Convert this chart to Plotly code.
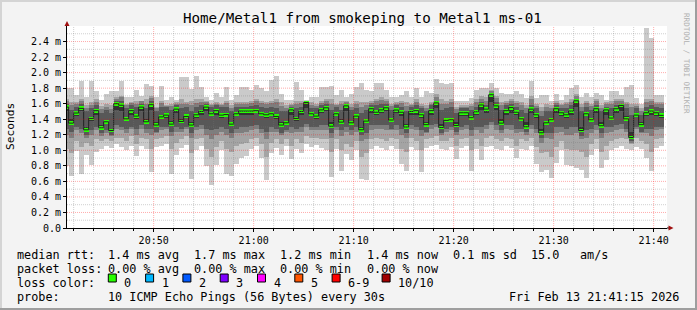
import plotly.graph_objects as go
import pandas as pd

# ---------------- data (ms) ----------------
t_first = pd.Timestamp("2026-02-13 20:41:00")
n_steps = 120
step_seconds = 30
step_start = [t_first + pd.Timedelta(seconds=step_seconds * i) for i in range(n_steps)]

median = [1.556, 1.35, 1.48, 1.54, 1.264, 1.41, 1.51, 1.29, 1.367, 1.255,
          1.60, 1.58, 1.405, 1.51, 1.44, 1.556, 1.367, 1.587, 1.325, 1.43,
          1.453, 1.337, 1.53, 1.371, 1.436, 1.325, 1.457, 1.50, 1.556, 1.47,
          1.51, 1.453, 1.46, 1.337, 1.47, 1.505, 1.505, 1.505, 1.51, 1.47,
          1.457, 1.47, 1.436, 1.325, 1.354, 1.52, 1.41, 1.50, 1.615, 1.47,
          1.44, 1.52, 1.547, 1.31, 1.47, 1.363, 1.572, 1.354, 1.44, 1.264,
          1.376, 1.535, 1.49, 1.52, 1.547, 1.39, 1.518, 1.49, 1.30, 1.50,
          1.51, 1.457, 1.33, 1.51, 1.61, 1.294, 1.385, 1.393, 1.32, 1.483,
          1.483, 1.42, 1.496, 1.583, 1.53, 1.715, 1.572, 1.35, 1.51, 1.55,
          1.49, 1.405, 1.303, 1.53, 1.457, 1.226, 1.354, 1.393, 1.535, 1.483,
          1.457, 1.505, 1.637, 1.255, 1.47, 1.393, 1.535, 1.316, 1.52, 1.415,
          1.535, 1.577, 1.405, 1.165, 1.453, 1.33, 1.483, 1.505, 1.483, 1.45]

ping_max = [1.80, 1.80, 1.71, 1.886, 1.69, 1.886, 1.757, 1.65, 1.72, 1.757,
            1.757, 1.894, 1.69, 1.69, 1.78, 1.705, 1.856, 1.834, 1.69, 1.83,
            1.65, 1.69, 1.65, 1.95, 1.95, 1.788, 1.96, 1.82, 1.69, 1.65,
            1.735, 1.69, 1.81, 1.65, 1.71, 1.81, 1.81, 1.78, 1.843, 1.80,
            1.757, 1.907, 1.96, 1.72, 1.65, 1.65, 1.873, 1.775, 1.65, 1.69,
            1.69, 1.81, 1.81, 1.83, 1.71, 1.78, 1.69, 1.72, 1.82, 1.86,
            1.78, 1.757, 1.865, 1.86, 1.78, 1.69, 1.69, 1.71, 1.757, 1.69,
            1.80, 1.69, 1.757, 1.74, 1.92, 1.86, 1.85, 1.86, 1.63, 1.63,
            1.63, 1.67, 1.78, 1.80, 1.80, 1.865, 1.80, 1.74, 1.73, 1.73,
            1.765, 1.73, 1.67, 1.894, 1.67, 1.71, 1.71, 1.63, 1.73, 1.65,
            1.71, 1.80, 1.843, 1.69, 1.74, 1.69, 1.74, 1.71, 1.65, 1.757,
            1.757, 1.71, 1.82, 1.843, 1.67, 1.60, 2.57, 2.44, 1.71, 1.71]

ping_min = [0.80, 0.664, 0.985, 0.695, 0.943, 0.805, 0.98, 1.02, 1.05, 1.03,
            1.08, 1.04, 1.00, 1.06, 0.93, 1.05, 1.02, 0.72, 1.04, 1.06,
            1.08, 0.695, 0.94, 1.03, 1.07, 0.63, 1.01, 1.05, 0.80, 0.55,
            0.81, 1.00, 0.70, 0.664, 0.83, 0.90, 0.93, 1.02, 1.05, 0.90,
            0.62, 0.96, 1.03, 0.94, 1.05, 0.89, 1.02, 0.97, 1.08, 1.04,
            1.07, 1.03, 1.01, 0.66, 1.02, 0.74, 0.95, 0.88, 1.00, 0.63,
            0.62, 1.02, 1.05, 1.03, 1.00, 1.06, 1.02, 0.83, 0.73, 1.04,
            1.00, 0.72, 1.03, 1.05, 1.07, 1.02, 1.00, 1.04, 0.89, 1.03,
            1.05, 0.73, 1.02, 0.88, 1.04, 1.06, 1.02, 1.00, 1.05, 1.03,
            0.90, 1.02, 1.00, 1.05, 0.83, 0.72, 0.75, 0.64, 0.84, 1.00,
            0.81, 0.80, 0.77, 0.75, 0.64, 0.94, 1.02, 0.77, 0.88, 1.00,
            1.03, 1.05, 1.02, 1.00, 1.04, 1.02, 0.90, 0.737, 1.03, 1.05]

ping_hi1 = [1.66, 1.62, 1.62, 1.66, 1.58, 1.62, 1.66, 1.57, 1.60, 1.58,
            1.68, 1.70, 1.60, 1.62, 1.64, 1.64, 1.66, 1.70, 1.56, 1.64,
            1.58, 1.60, 1.62, 1.66, 1.62, 1.64, 1.66, 1.66, 1.64, 1.60,
            1.62, 1.60, 1.64, 1.58, 1.62, 1.62, 1.62, 1.64, 1.66, 1.64,
            1.62, 1.64, 1.66, 1.62, 1.58, 1.60, 1.64, 1.64, 1.64, 1.62,
            1.60, 1.64, 1.66, 1.66, 1.60, 1.64, 1.64, 1.60, 1.64, 1.62,
            1.62, 1.64, 1.66, 1.68, 1.66, 1.60, 1.62, 1.64, 1.62, 1.60,
            1.66, 1.60, 1.58, 1.62, 1.72, 1.66, 1.64, 1.66, 1.56, 1.58,
            1.58, 1.60, 1.66, 1.70, 1.68, 1.78, 1.70, 1.62, 1.64, 1.66,
            1.64, 1.62, 1.58, 1.70, 1.60, 1.56, 1.60, 1.58, 1.64, 1.60,
            1.62, 1.66, 1.72, 1.60, 1.64, 1.60, 1.66, 1.58, 1.62, 1.64,
            1.66, 1.66, 1.62, 1.60, 1.60, 1.54, 1.66, 1.66, 1.62, 1.62]

ping_lo1 = [1.02, 0.96, 1.12, 1.04, 1.10, 1.06, 1.14, 1.12, 1.14, 1.12,
            1.16, 1.16, 1.12, 1.18, 1.08, 1.16, 1.14, 1.02, 1.14, 1.16,
            1.18, 1.02, 1.10, 1.14, 1.18, 0.96, 1.14, 1.16, 1.02, 0.92,
            1.04, 1.12, 1.02, 0.98, 1.06, 1.08, 1.10, 1.14, 1.16, 1.08,
            0.92, 1.10, 1.14, 1.08, 1.14, 1.06, 1.14, 1.10, 1.18, 1.16,
            1.16, 1.14, 1.14, 0.98, 1.14, 1.00, 1.08, 1.04, 1.12, 0.92,
            0.96, 1.14, 1.16, 1.14, 1.12, 1.16, 1.14, 1.02, 0.98, 1.16,
            1.12, 1.00, 1.14, 1.16, 1.18, 1.12, 1.12, 1.16, 1.06, 1.14,
            1.16, 1.00, 1.14, 1.06, 1.16, 1.18, 1.14, 1.12, 1.16, 1.14,
            1.06, 1.14, 1.12, 1.16, 1.04, 0.96, 0.98, 0.92, 1.04, 1.12,
            1.02, 1.00, 1.00, 0.98, 0.92, 1.08, 1.14, 0.98, 1.06, 1.12,
            1.14, 1.16, 1.14, 1.08, 1.16, 1.12, 1.08, 0.98, 1.14, 1.16]

ping_hi2 = [1.64, 1.58, 1.60, 1.64, 1.55, 1.58, 1.62, 1.53, 1.56, 1.53,
            1.66, 1.68, 1.58, 1.61, 1.60, 1.63, 1.60, 1.67, 1.54, 1.61,
            1.57, 1.57, 1.60, 1.60, 1.59, 1.58, 1.61, 1.62, 1.62, 1.58,
            1.60, 1.58, 1.61, 1.55, 1.59, 1.60, 1.60, 1.61, 1.63, 1.61,
            1.59, 1.61, 1.62, 1.57, 1.55, 1.58, 1.60, 1.61, 1.64, 1.58,
            1.57, 1.61, 1.63, 1.60, 1.58, 1.59, 1.62, 1.56, 1.60, 1.56,
            1.58, 1.61, 1.63, 1.65, 1.63, 1.57, 1.60, 1.61, 1.57, 1.58,
            1.62, 1.57, 1.55, 1.60, 1.69, 1.60, 1.60, 1.62, 1.53, 1.56,
            1.56, 1.57, 1.62, 1.66, 1.64, 1.76, 1.67, 1.58, 1.61, 1.63,
            1.61, 1.58, 1.54, 1.66, 1.57, 1.51, 1.56, 1.55, 1.61, 1.58,
            1.59, 1.62, 1.70, 1.56, 1.61, 1.57, 1.63, 1.55, 1.60, 1.60,
            1.63, 1.64, 1.59, 1.56, 1.57, 1.51, 1.62, 1.63, 1.59, 1.59]

ping_lo2 = [1.20, 1.16, 1.26, 1.22, 1.16, 1.20, 1.26, 1.18, 1.22, 1.18,
            1.28, 1.26, 1.22, 1.28, 1.20, 1.28, 1.22, 1.20, 1.22, 1.26,
            1.28, 1.18, 1.24, 1.24, 1.28, 1.16, 1.26, 1.28, 1.20, 1.14,
            1.20, 1.24, 1.20, 1.16, 1.22, 1.22, 1.24, 1.26, 1.28, 1.22,
            1.14, 1.24, 1.24, 1.20, 1.24, 1.22, 1.24, 1.24, 1.30, 1.26,
            1.26, 1.26, 1.26, 1.16, 1.26, 1.18, 1.24, 1.20, 1.24, 1.12,
            1.14, 1.26, 1.28, 1.28, 1.26, 1.26, 1.26, 1.20, 1.16, 1.28,
            1.26, 1.18, 1.22, 1.28, 1.30, 1.20, 1.24, 1.26, 1.20, 1.26,
            1.28, 1.18, 1.26, 1.22, 1.28, 1.32, 1.26, 1.22, 1.28, 1.26,
            1.22, 1.24, 1.20, 1.28, 1.22, 1.10, 1.16, 1.14, 1.22, 1.24,
            1.20, 1.20, 1.22, 1.14, 1.16, 1.22, 1.26, 1.16, 1.22, 1.24,
            1.26, 1.28, 1.24, 1.10, 1.28, 1.22, 1.22, 1.18, 1.26, 1.28]

ping_hi3 = [1.60, 1.52, 1.56, 1.60, 1.50, 1.54, 1.58, 1.48, 1.52, 1.48,
            1.63, 1.63, 1.54, 1.58, 1.56, 1.60, 1.54, 1.63, 1.50, 1.56,
            1.56, 1.52, 1.58, 1.54, 1.56, 1.50, 1.56, 1.58, 1.60, 1.56,
            1.58, 1.56, 1.56, 1.50, 1.56, 1.56, 1.56, 1.57, 1.58, 1.56,
            1.54, 1.56, 1.54, 1.50, 1.50, 1.56, 1.54, 1.56, 1.63, 1.54,
            1.54, 1.58, 1.60, 1.52, 1.56, 1.52, 1.60, 1.52, 1.54, 1.48,
            1.52, 1.58, 1.58, 1.60, 1.60, 1.52, 1.58, 1.56, 1.50, 1.56,
            1.58, 1.54, 1.50, 1.58, 1.64, 1.52, 1.54, 1.56, 1.48, 1.54,
            1.54, 1.52, 1.56, 1.62, 1.58, 1.73, 1.62, 1.52, 1.58, 1.60,
            1.56, 1.52, 1.48, 1.58, 1.54, 1.44, 1.50, 1.50, 1.58, 1.54,
            1.54, 1.58, 1.66, 1.50, 1.56, 1.52, 1.58, 1.50, 1.56, 1.54,
            1.58, 1.60, 1.54, 1.46, 1.54, 1.46, 1.56, 1.58, 1.56, 1.54]

ping_lo3 = [1.28, 1.24, 1.30, 1.28, 1.20, 1.26, 1.30, 1.22, 1.26, 1.20,
            1.32, 1.30, 1.28, 1.30, 1.28, 1.32, 1.28, 1.28, 1.24, 1.30,
            1.30, 1.24, 1.30, 1.28, 1.30, 1.22, 1.30, 1.32, 1.28, 1.26,
            1.28, 1.30, 1.28, 1.22, 1.28, 1.30, 1.30, 1.31, 1.32, 1.28,
            1.24, 1.30, 1.28, 1.22, 1.26, 1.30, 1.28, 1.30, 1.34, 1.30,
            1.30, 1.32, 1.32, 1.22, 1.30, 1.26, 1.30, 1.26, 1.30, 1.20,
            1.22, 1.32, 1.32, 1.32, 1.32, 1.28, 1.32, 1.28, 1.22, 1.32,
            1.30, 1.26, 1.24, 1.32, 1.34, 1.22, 1.28, 1.30, 1.24, 1.30,
            1.32, 1.26, 1.30, 1.30, 1.32, 1.36, 1.32, 1.26, 1.32, 1.32,
            1.28, 1.28, 1.24, 1.32, 1.28, 1.16, 1.22, 1.22, 1.30, 1.30,
            1.28, 1.30, 1.30, 1.18, 1.26, 1.28, 1.32, 1.22, 1.30, 1.30,
            1.32, 1.34, 1.28, 1.12, 1.30, 1.24, 1.28, 1.28, 1.30, 1.30]

ping_core = [1.50, 1.40, 1.44, 1.50, 1.30, 1.38, 1.46, 1.32, 1.34, 1.28,
             1.52, 1.50, 1.42, 1.46, 1.40, 1.50, 1.40, 1.52, 1.36, 1.40,
             1.42, 1.38, 1.48, 1.40, 1.42, 1.36, 1.42, 1.46, 1.50, 1.44,
             1.46, 1.42, 1.44, 1.36, 1.44, 1.46, 1.46, 1.46, 1.48, 1.44,
             1.42, 1.44, 1.40, 1.36, 1.38, 1.46, 1.38, 1.46, 1.54, 1.44,
             1.40, 1.48, 1.50, 1.36, 1.44, 1.40, 1.50, 1.38, 1.42, 1.30,
             1.40, 1.48, 1.46, 1.48, 1.50, 1.42, 1.48, 1.44, 1.34, 1.46,
             1.46, 1.42, 1.36, 1.46, 1.54, 1.34, 1.40, 1.42, 1.36, 1.44,
             1.44, 1.40, 1.46, 1.52, 1.48, 1.62, 1.52, 1.40, 1.46, 1.48,
             1.46, 1.40, 1.36, 1.48, 1.42, 1.28, 1.38, 1.40, 1.48, 1.44,
             1.42, 1.46, 1.56, 1.30, 1.44, 1.40, 1.48, 1.36, 1.46, 1.42,
             1.48, 1.50, 1.44, 1.24, 1.44, 1.36, 1.44, 1.46, 1.44, 1.42]

y_ticks = [0.0, 0.2, 0.4, 0.6, 0.8, 1.0, 1.2, 1.4, 1.6, 1.8, 2.0, 2.2, 2.4]
y_tick_labels = ["0.0", "0.2 m", "0.4 m", "0.6 m", "0.8 m", "1.0 m", "1.2 m",
                 "1.4 m", "1.6 m", "1.8 m", "2.0 m", "2.2 m", "2.4 m"]

rtt_stats = ["1.4 ms avg", "1.7 ms max", "1.2 ms min", "1.4 ms now", "0.1 ms sd", "15.0", "am/s"]
loss_stats = ["0.00 % avg", "0.00 % max", "0.00 % min", "0.00 % now"]
loss_labels = ["0", "1", "2", "3", "4", "5", "6-9", "10/10"]
loss_colors = ["#26ff00", "#00b8ff", "#0059ff", "#7e00ff", "#ff00ff", "#ff5500", "#ff0000", "#a10000"]

title_text = "Home/Metal1 from smokeping to Metal1 ms-01"
probe_text = "10 ICMP Echo Pings (56 Bytes) every 30s"
stamp_text = "Fri Feb 13 21:41:15 2026"

# ---------------- geometry ----------------
W, H = 697, 310
L, R, T, B = 67, 30, 26, 82
PW, PH = W - L - R, H - T - B


def px(x):
    return (x - L) / PW


def py(y):
    return (H - B - y) / PH


x_start = pd.Timestamp("2026-02-13 20:41:20")
x_end = pd.Timestamp("2026-02-13 21:41:20")

half = pd.Timedelta(seconds=step_seconds / 2)
centers = [s + half for s in step_start]
width_ms = step_seconds * 1000

fig = go.Figure()


def band(lo, hi, color):
    fig.add_trace(go.Bar(
        x=centers, base=lo, y=[h - l for l, h in zip(lo, hi)],
        width=width_ms, marker=dict(color=color, line=dict(width=0)),
        hoverinfo="skip", showlegend=False))


band(ping_min, ping_max, "#cacaca")
band(ping_lo1, ping_hi1, "#a4a4a4")
band(ping_lo2, ping_hi2, "#7e7e7e")
band(ping_lo3, ping_hi3, "#585858")
band([min(c, m) for c, m in zip(ping_core, median)],
     [max(c, m) for c, m in zip(ping_core, median)], "#323232")

# median black step line
fig.add_trace(go.Scatter(
    x=step_start + [step_start[-1] + pd.Timedelta(seconds=step_seconds)],
    y=median + [median[-1]], mode="lines",
    line=dict(color="#202020", width=1, shape="hv"),
    hoverinfo="skip", showlegend=False))

# green median markers (loss 0)
swidth = 0.025
fig.add_trace(go.Bar(
    x=centers, base=[m - swidth for m in median], y=[2 * swidth] * n_steps,
    width=width_ms, marker=dict(color=loss_colors[0], line=dict(width=0)),
    hoverinfo="skip", showlegend=False))

shapes = []
# grid (drawn above data, as rrdtool does)
for k in range(1, 26):
    v = k / 10
    major = (k % 2 == 0)
    shapes.append(dict(type="line", xref="paper", yref="y", x0=0, x1=1, y0=v, y1=v,
                       layer="above",
                       line=dict(color="rgba(255,0,0,0.33)" if major else "rgba(120,120,120,0.35)",
                                 width=1, dash="1px,1px")))
g = pd.Timestamp("2026-02-13 20:42:00")
while g < x_end:
    major = (g.minute % 10 == 0)
    shapes.append(dict(type="line", xref="x", yref="paper", x0=g, x1=g, y0=0, y1=1,
                       layer="above",
                       line=dict(color="rgba(255,0,0,0.33)" if major else "rgba(120,120,120,0.35)",
                                 width=1, dash="1px,1px")))
    g += pd.Timedelta(minutes=2)

# axis extensions + arrows
shapes.append(dict(type="line", xref="paper", yref="paper", x0=px(L), x1=px(L), y0=1, y1=py(23),
                   line=dict(color="#000000", width=1)))
shapes.append(dict(type="line", xref="paper", yref="paper", x0=1, x1=px(670), y0=0, y1=0,
                   line=dict(color="#000000", width=1)))
shapes.append(dict(type="path", xref="paper", yref="paper",
                   path=f"M {px(64.5)} {py(26)} L {px(69.5)} {py(26)} L {px(67)} {py(21)} Z",
                   fillcolor="#a01010", line=dict(width=0)))
shapes.append(dict(type="path", xref="paper", yref="paper",
                   path=f"M {px(668.5)} {py(225.5)} L {px(668.5)} {py(230.5)} L {px(673.5)} {py(228)} Z",
                   fillcolor="#a01010", line=dict(width=0)))

# loss colour boxes
box_x = [108.3, 145.6, 182.9, 220.2, 257.5, 294.8, 332.1, 382.1]
for bx, c in zip(box_x, loss_colors):
    shapes.append(dict(type="rect", xref="paper", yref="paper",
                       x0=px(bx), x1=px(bx + 8), y0=py(274), y1=py(282),
                       fillcolor=c, line=dict(color="#000000", width=1)))

# frame
shapes.append(dict(type="rect", xref="paper", yref="paper", x0=px(0), x1=px(W), y0=py(0), y1=py(2),
                   fillcolor="#d4d4d4", line=dict(width=0), layer="below"))
shapes.append(dict(type="rect", xref="paper", yref="paper", x0=px(0), x1=px(2), y0=py(0), y1=py(H),
                   fillcolor="#d4d4d4", line=dict(width=0), layer="below"))
shapes.append(dict(type="rect", xref="paper", yref="paper", x0=px(0), x1=px(W), y0=py(H - 2), y1=py(H),
                   fillcolor="#9e9e9e", line=dict(width=0), layer="below"))
shapes.append(dict(type="rect", xref="paper", yref="paper", x0=px(W - 2), x1=px(W), y0=py(0), y1=py(H),
                   fillcolor="#9e9e9e", line=dict(width=0), layer="below"))

MONO = "DejaVu Sans Mono"
FS = 11.8
annotations = []


def ann(text, x, y, xanchor="left", size=FS, color="#000000", angle=0):
    annotations.append(dict(text=text, x=px(x), y=py(y), xref="paper", yref="paper",
                            xanchor=xanchor, yanchor="middle", showarrow=False,
                            textangle=angle, borderpad=0,
                            font=dict(family=MONO, size=size, color=color)))


ann(title_text, 362, 18.5, xanchor="center", size=14.2)
ann("Seconds", 10, 127, xanchor="center", size=11.2, angle=-90)
ann("RRDTOOL / TOBI OETIKER", 687, 63, xanchor="center", size=7.6, color="#b0b0b0", angle=90)

ly = [255, 269.3, 283, 296.7]
ann("median rtt:", 16, ly[0])
for s, x in zip(rtt_stats, [107, 193, 279, 365.7, 451.7, 530, 579.3]):
    ann(s, x, ly[0])
ann("packet loss:", 16, ly[1])
for s, x in zip(loss_stats, [107, 193, 279, 365.7]):
    ann(s, x, ly[1])
ann("loss color:", 16, ly[2])
for bx, lab in zip(box_x, loss_labels):
    ann(lab, bx + 15, ly[2])
ann("probe:", 16, ly[3])
ann(probe_text, 107, ly[3])
ann(stamp_text, 680, ly[3], xanchor="right")

fig.update_layout(
    width=W, height=H,
    margin=dict(l=L, r=R, t=T, b=B, autoexpand=False),
    paper_bgcolor="#f3f3f3", plot_bgcolor="#ffffff",
    barmode="overlay", bargap=0,
    showlegend=False,
    shapes=shapes, annotations=annotations,
    xaxis=dict(
        type="date", range=[x_start, x_end],
        tickmode="linear", tick0="2026-02-13 20:50:00", dtick=600000,
        tickformat="%H:%M", showgrid=False, zeroline=False,
        showline=True, linecolor="#000000", linewidth=1,
        ticks="outside", ticklen=3, tickcolor="#000000",
        minor=dict(dtick=120000, tick0="2026-02-13 20:42:00", ticks="outside",
                   ticklen=2, tickcolor="#000000", showgrid=False),
        tickfont=dict(family=MONO, size=10, color="#000000"),
    ),
    yaxis=dict(
        range=[0, 2.6], tickmode="array", tickvals=y_ticks, ticktext=y_tick_labels,
        showgrid=False, zeroline=False,
        showline=True, linecolor="#000000", linewidth=1,
        ticks="outside", ticklen=3, tickcolor="#000000",
        tickfont=dict(family=MONO, size=10, color="#000000"),
    ),
)

fig.write_html("out.html")
